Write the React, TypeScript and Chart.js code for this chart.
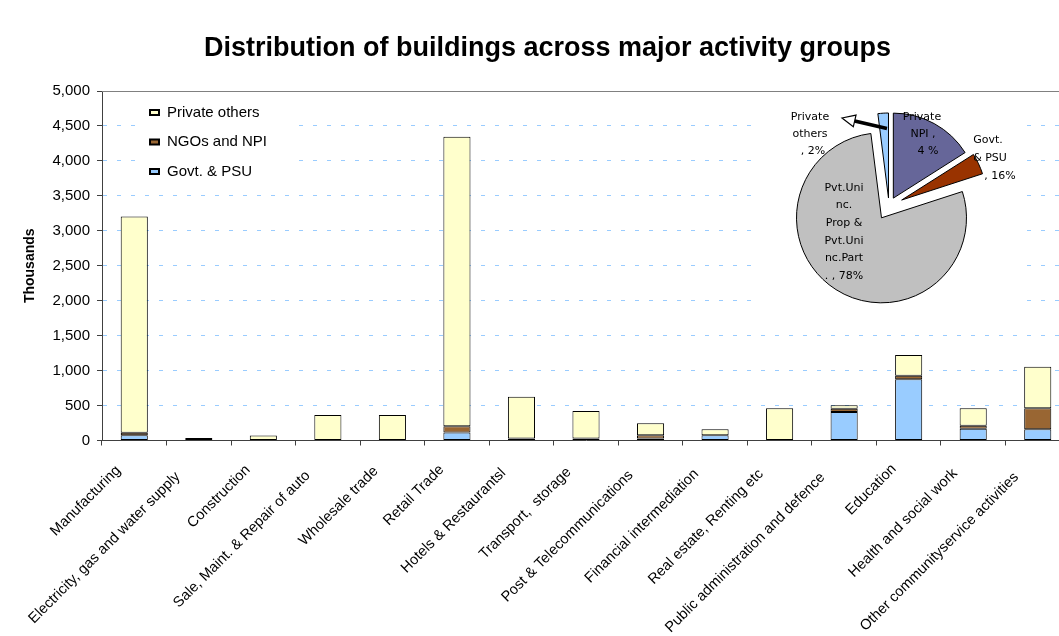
import React, { useEffect, useRef } from 'react';
import { Chart, registerables } from 'chart.js';

Chart.register(...registerables);

// ---------- data ----------
const chartTitle = 'Distribution of buildings across major activity groups';
const yAxisTitle = 'Thousands';

const categories = [
  'Manufacturing',
  'Electricity, gas and water supply',
  'Construction',
  'Sale, Maint. & Repair of auto',
  'Wholesale trade',
  'Retail Trade',
  'Hotels & Restaurantsl',
  'Transport,  storage',
  'Post & Telecommunications',
  'Financial intermediation',
  'Real estate, Renting etc',
  'Public administration and defence',
  'Education',
  'Health and social work',
  'Other communityservice activities',
];

const seriesNames = ['Govt. & PSU', 'NGOs and NPI', 'Private others'];
const govtPsu = [75, 35, 0, 0, 0, 115, 0, 0, 30, 75, 0, 408, 876, 167, 160];
const ngosNpi = [35, 0, 0, 0, 0, 90, 30, 30, 45, 0, 0, 47, 52, 43, 300];
const privateOthers = [3094, 0, 70, 365, 365, 4142, 597, 392, 171, 85, 460, 49, 295, 250, 596];

const yMin = 0;
const yMax = 5000;
const yStep = 500;

// inset pie (clockwise from 12 o'clock)
const pieNames = ['Private NPI', 'Govt. & PSU', 'Pvt.Uninc. Prop & Pvt.Uninc.Part.', 'Private others'];
const pieShares = [16, 4, 78, 2];
const pieLabelLines = [
  ['Private', 'NPI ,', '4 %'],
  ['Govt.', '& PSU', ', 16%'],
  ['Pvt.Uni', 'nc.', 'Prop &', 'Pvt.Uni', 'nc.Part', '. , 78%'],
  ['Private', 'others', ', 2%'],
];

// ---------- styles ----------
const FONT = '"Liberation Sans", Arial, sans-serif';
const barColors = ['#99ccff', '#996633', '#ffffcc'];
const pieColors = ['#666699', '#993300', '#c0c0c0', '#99ccff'];
const pieExplode = [9, 14, 14, 8];

const framePlugin = {
  id: 'frameAndLegend',
  beforeDatasetsDraw(chart: any) {
    const ctx = chart.ctx;
    const { left, right, top } = chart.chartArea;
    ctx.save();
    // top frame line of plot area
    ctx.strokeStyle = '#808080';
    ctx.lineWidth = 1;
    ctx.setLineDash([]);
    ctx.beginPath();
    ctx.moveTo(left, Math.round(top) + 0.5);
    ctx.lineTo(right, Math.round(top) + 0.5);
    ctx.stroke();

    // legend box
    const bx = left + 41;
    const by = top + 4;
    ctx.fillStyle = '#ffffff';
    ctx.fillRect(bx, by, 146, 88);
    const ds = chart.data.datasets.slice().reverse();
    ctx.font = `15px ${FONT}`;
    ctx.textBaseline = 'middle';
    ctx.textAlign = 'left';
    ds.forEach((d: any, i: number) => {
      const cy = by + 17.5 + i * 29.5;
      ctx.fillStyle = '#000';
      ctx.fillRect(bx + 6, cy - 3.5, 11, 7);
      ctx.fillStyle = d.backgroundColor;
      ctx.fillRect(bx + 8, cy - 1.5, 7, 3);
      ctx.fillStyle = '#000';
      ctx.fillText(d.label, bx + 24, cy);
    });
    ctx.restore();
  },
  afterDraw(chart: any) {
    const ctx = chart.ctx;
    ctx.save();
    // title
    ctx.font = `bold 27px ${FONT}`;
    ctx.fillStyle = '#000';
    ctx.textAlign = 'center';
    ctx.textBaseline = 'middle';
    ctx.fillText(chartTitle, chart.width / 2, 49);

    // rotated category labels
    const xs = chart.scales.x;
    ctx.font = `14.6px ${FONT}`;
    ctx.textAlign = 'right';
    ctx.textBaseline = 'middle';
    chart.data.labels.forEach((lab: string, i: number) => {
      const w = ctx.measureText(lab).width;
      const ex = xs.getPixelForTick(i) - 11.8 - 0.044 * w;
      const ey = xs.top + 22.6 + 0.055 * w;
      ctx.save();
      ctx.translate(ex, ey);
      ctx.rotate(-Math.PI / 4);
      ctx.fillText(lab, 0, 0);
      ctx.restore();
    });
    ctx.restore();
  },
};

const explodePlugin = {
  id: 'explode',
  afterDatasetsUpdate(chart: any) {
    const meta = chart.getDatasetMeta(0);
    meta.data.forEach((arc: any, i: number) => {
      const a = (arc.startAngle + arc.endAngle) / 2;
      const d = pieExplode[i] || 0;
      arc.x += Math.cos(a) * d;
      arc.y += Math.sin(a) * d;
    });
  },
};

const pieLabelPlugin = {
  id: 'pieLabels',
  afterDraw(chart: any) {
    const ctx = chart.ctx;
    const blocks = [
      { xs: [163, 164, 169], y: 22, gap: 17 },
      { xs: [229, 231, 241], y: 45, gap: 18 },
      { xs: [85, 85, 85, 85, 85, 85], y: 93, gap: 17.6 },
      { xs: [51, 51, 54], y: 22, gap: 17 },
    ];
    ctx.save();
    // arrow from small slice to its label
    const tail = { x: 128, y: 33.5 };
    const tip = { x: 83, y: 23 };
    const dx = tail.x - tip.x;
    const dy = tail.y - tip.y;
    const len = Math.hypot(dx, dy);
    const ux = dx / len;
    const uy = dy / len;
    const hl = 13;
    const hw = 6;
    const bcx = tip.x + ux * hl;
    const bcy = tip.y + uy * hl;
    ctx.strokeStyle = '#000';
    ctx.lineWidth = 3.5;
    ctx.beginPath();
    ctx.moveTo(tail.x, tail.y);
    ctx.lineTo(bcx, bcy);
    ctx.stroke();
    ctx.lineWidth = 1.2;
    ctx.fillStyle = '#fff';
    ctx.beginPath();
    ctx.moveTo(tip.x, tip.y);
    ctx.lineTo(bcx - uy * hw, bcy + ux * hw);
    ctx.lineTo(bcx + uy * hw, bcy - ux * hw);
    ctx.closePath();
    ctx.fill();
    ctx.stroke();

    ctx.font = '11px "DejaVu Sans", Verdana, sans-serif';
    ctx.fillStyle = '#000';
    ctx.textAlign = 'center';
    ctx.textBaseline = 'middle';
    chart.data.labelLines.forEach((lines: string[], i: number) => {
      const b = blocks[i];
      lines.forEach((t, j) => {
        ctx.fillText(t, b.xs[j], b.y + j * b.gap);
      });
    });
    ctx.restore();
  },
};

export default function App() {
  const barRef = useRef<HTMLCanvasElement>(null);
  const pieRef = useRef<HTMLCanvasElement>(null);

  useEffect(() => {
    const bar = new Chart(barRef.current as HTMLCanvasElement, {
      type: 'bar',
      data: {
        labels: categories,
        datasets: [govtPsu, ngosNpi, privateOthers].map((vals, i) => ({
          label: seriesNames[i],
          data: vals,
          backgroundColor: barColors[i],
          borderColor: '#000000',
          borderWidth: 1,
          borderSkipped: false,
          barPercentage: 0.42,
          categoryPercentage: 1,
        })),
      },
      options: {
        animation: false,
        responsive: false,
        events: [],
        layout: { padding: { top: 91, right: 25, left: 0, bottom: 0 } },
        plugins: {
          legend: { display: false },
          title: { display: false },
          tooltip: { enabled: false },
        },
        scales: {
          x: {
            stacked: true,
            afterFit: (s: any) => {
              s.height = 195.5;
            },
            grid: {
              display: true,
              drawOnChartArea: false,
              drawTicks: true,
              tickLength: 5,
              tickColor: '#404040',
              offset: true,
            },
            border: { display: true, color: '#404040', width: 1 },
            ticks: {
              display: false,
              autoSkip: false,
            },
          },
          y: {
            stacked: true,
            min: yMin,
            max: yMax,
            afterFit: (s: any) => {
              s.width = 102;
            },
            ticks: {
              stepSize: yStep,
              padding: 7,
              color: '#000',
              font: { family: FONT, size: 15 },
              callback: (v: any) => Number(v).toLocaleString('en-US'),
            },
            grid: {
              color: '#99ccff',
              lineWidth: 1,
              drawTicks: true,
              tickLength: 5,
              tickColor: '#404040',
            },
            border: { display: true, color: '#404040', width: 1, dash: [4, 10] },
            title: {
              display: true,
              text: yAxisTitle,
              color: '#000',
              font: { family: FONT, size: 14, weight: 'bold' },
              padding: { top: 22, bottom: 0 },
            },
          },
        },
      },
      plugins: [framePlugin],
    } as any);

    const pie = new Chart(pieRef.current as HTMLCanvasElement, {
      type: 'pie',
      data: {
        labels: pieNames,
        labelLines: pieLabelLines,
        datasets: [
          {
            data: pieShares,
            backgroundColor: pieColors,
            borderColor: '#000000',
            borderWidth: 1,
            radius: 85,
          },
        ],
      },
      options: {
        animation: false,
        responsive: false,
        events: [],
        layout: { padding: 0 },
        plugins: {
          legend: { display: false },
          title: { display: false },
          tooltip: { enabled: false },
        },
      },
      plugins: [explodePlugin, pieLabelPlugin],
    } as any);

    return () => {
      bar.destroy();
      pie.destroy();
    };
  }, []);

  return (
    <div
      style={{
        position: 'absolute',
        left: 0,
        top: 0,
        width: 1059,
        height: 636,
        overflow: 'hidden',
        background: '#ffffff',
      }}
    >
      <canvas
        ref={barRef}
        width={1095}
        height={636}
        style={{ position: 'absolute', left: 0, top: 0, width: 1095, height: 636 }}
      />
      <canvas
        ref={pieRef}
        width={260}
        height={222}
        style={{ position: 'absolute', left: 759, top: 95, width: 260, height: 222, background: '#ffffff' }}
      />
    </div>
  );
}
